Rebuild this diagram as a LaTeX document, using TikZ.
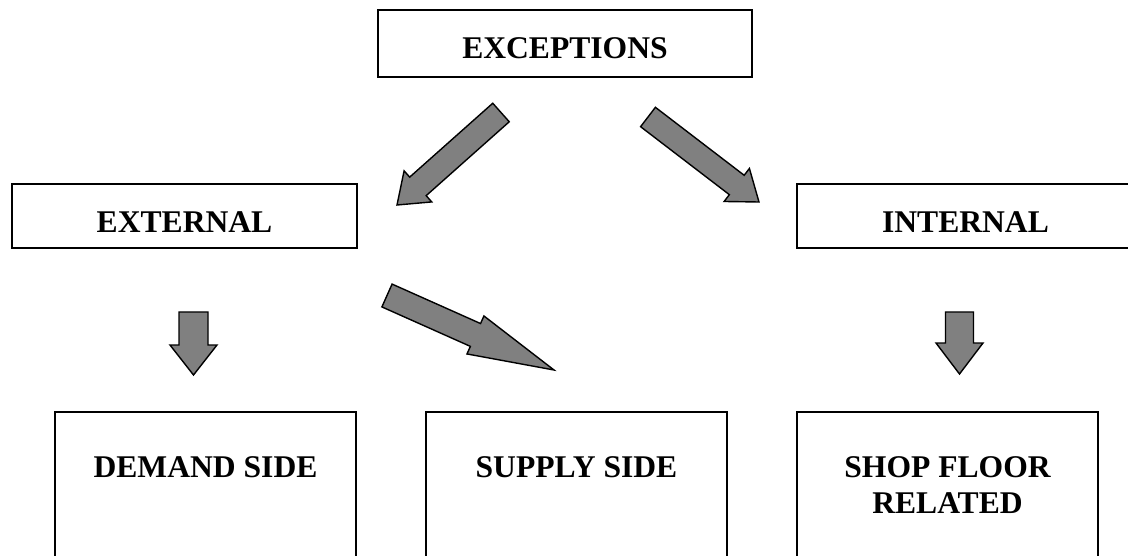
\documentclass[tikz,border=0pt]{standalone}
\usepackage{fontspec}
\setmainfont{Liberation Serif}
\usetikzlibrary{calc}
\tikzset{
  box/.style={draw=black, line width=1.6pt, fill=white, inner sep=0pt},
  lbl/.style={font=\bfseries\fontsize{31.6}{36}\selectfont, inner sep=0pt, align=center, anchor=base},
  fatarrow/.style={draw=black, line width=1.4pt, line join=miter, fill=black!50},
}
% block arrow: tail, tip, half shaft width, half head width, head length
\newcommand{\blockarrow}[5]{%
  \coordinate (neck) at ($(#2)!#5!(#1)$);
  \draw[fatarrow] ($(#1)!#3!90:(#2)$) -- ($(neck)!#3!90:(#2)$) -- ($(neck)!#4!90:(#2)$)
    -- (#2) -- ($(neck)!#4!-90:(#2)$) -- ($(neck)!#3!-90:(#2)$) -- ($(#1)!#3!-90:(#2)$) -- cycle;
}
\begin{document}
\begin{tikzpicture}[x=1pt,y=-1pt]
\clip (0,0) rectangle (1128,556);
\fill[white] (0,0) rectangle (1128,556);
% ---- top level ----
\node[box, minimum width=374, minimum height=67] (exc) at (565,43.5) {};
\node[lbl] (excT) at (565,59) {EXCEPTIONS};
% ---- second level ----
\node[box, minimum width=345, minimum height=64] (ext) at (184.5,216) {};
\node[lbl] (extT) at (184.5,233) {EXTERNAL};
\node[box, minimum width=337, minimum height=64] (int) at (965.5,216) {};
\node[lbl] (intT) at (965.5,233) {INTERNAL};
% ---- third level ----
\node[box, minimum width=301, minimum height=188] (dem) at (205.5,506) {};
\node[lbl] (demT) at (205.5,477) {DEMAND SIDE};
\node[box, minimum width=301, minimum height=188] (sup) at (576.5,506) {};
\node[lbl] (supT) at (576.5,477) {SUPPLY SIDE};
\node[box, minimum width=301, minimum height=188] (shop) at (947.5,506) {};
\node[lbl] (shopT) at (947.5,513) {SHOP FLOOR\\RELATED};
% ---- block arrows ----
\coordinate (a1s) at (501,112.5);   \coordinate (a1e) at (397,205);
\coordinate (a2s) at (648,117);     \coordinate (a2e) at (759,202);
\coordinate (a3s) at (193.5,312);   \coordinate (a3e) at (193.5,375);
\coordinate (a4s) at (387,295.5);   \coordinate (a4e) at (554,370);
\coordinate (a5s) at (959.5,312);   \coordinate (a5e) at (959.5,374);
\blockarrow{a1s}{a1e}{12.4pt}{20.8pt}{28pt}
\blockarrow{a2s}{a2e}{12.2pt}{20.8pt}{28pt}
\blockarrow{a3s}{a3e}{14.5pt}{23.5pt}{30pt}
\blockarrow{a4s}{a4e}{12.5pt}{20.8pt}{86pt}
\blockarrow{a5s}{a5e}{14pt}{23.5pt}{31pt}
\end{tikzpicture}
\end{document}
